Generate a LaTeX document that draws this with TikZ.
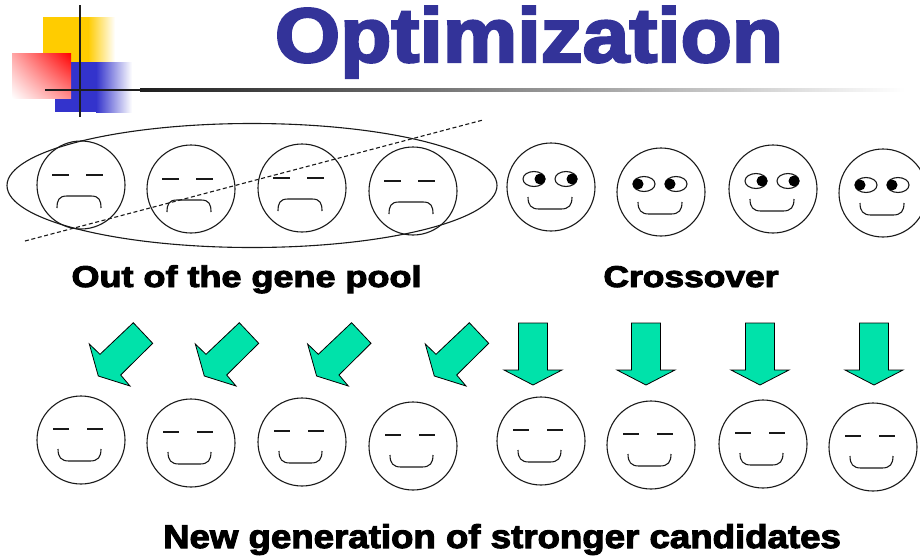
\documentclass[tikz,border=0pt]{standalone}
\usepackage{fontspec}
\newfontfamily\blackfont{Liberation Sans Bold}[FakeBold=3]
\usetikzlibrary{shapes.geometric,shadings}

\definecolor{titleblue}{RGB}{51,51,153}
\definecolor{mint}{RGB}{0,226,170}
\definecolor{logoyellow}{RGB}{255,204,0}
\definecolor{logoblue}{RGB}{51,51,204}
\definecolor{rulegray}{RGB}{30,30,30}

\tikzset{
  faceline/.style={line width=1.1pt, draw=black!90},
  facering/.style={circle, faceline, minimum size=88pt, inner sep=0pt},
  arrowshape/.style={fill=mint, draw=black, line width=0.8pt, line join=miter},
  headline/.style={font=\blackfont\fontsize{30}{30}\selectfont, anchor=base},
  % face with closed eyes and a frown
  pics/sadface/.style={code={
    \node[facering] (-ring) at (0,0) {};
    \draw[faceline] (-29,-10) -- (-12,-10) (5,-10) -- (22,-10);
    \draw[faceline] (-24,23) .. controls (-24,15) and (-22,11) .. (-14,11)
      -- (10,11) .. controls (18,11) and (20,15) .. (20,23);
  }},
  % face with closed eyes and a smile
  pics/glad/.style={code={
    \node[facering] (-ring) at (0,0) {};
    \draw[faceline] (-28,-11) -- (-12,-11) (6,-11) -- (22,-11);
    \draw[faceline] (-23,9) .. controls (-23,17) and (-20,21) .. (-12,21)
      -- (9,21) .. controls (17,21) and (20,17) .. (20,9);
  }},
  % smiling face with open eyes; #1 shifts the pupils sideways
  pics/glance/.style={code={
    \node[facering] (-ring) at (0,0) {};
    \draw[faceline] (-17,-8) ellipse [x radius=11, y radius=7.5]
                    (15,-8) ellipse [x radius=11, y radius=7.5];
    \fill (-17+#1,-8) circle [radius=5.5] (15+#1,-8) circle [radius=5.5];
    \draw[faceline] (-23,10) .. controls (-23,18) and (-20,22) .. (-12,22)
      -- (10,22) .. controls (18,22) and (21,18) .. (21,10);
  }},
}

\begin{document}
\begin{tikzpicture}[x=1pt,y=-1pt]
\useasboundingbox (0,0) rectangle (920,555);
\clip (0,0) rectangle (920,555);

% corner logo
\fill[logoyellow] (43,17) rectangle (88,62);
\shade[left color=logoyellow, right color=white] (88,17) rectangle (115,62);
\fill[logoblue] (55,62) rectangle (96,112);
\shade[left color=logoblue, right color=white] (96,62) rectangle (132,112);
\shade[upper right=red, lower left=white, upper left=red!35, lower right=red!45]
  (12,53) rectangle (71,98);
\draw[rulegray, line width=2.6pt] (80,5) -- (80,117);
\fill[rulegray] (45,88.7) rectangle (140,91.3);
\shade[left color=rulegray, right color=white] (140,88.7) rectangle (905,91.3);

% title
\node[anchor=base, text=titleblue] (title) at (529,62)
  {\blackfont\fontsize{77}{77}\selectfont\scalebox{1.09}[1]{Optimization}};

% the weak candidates, circled and crossed out
\node[ellipse, faceline, minimum width=490pt, minimum height=124pt, inner sep=0pt]
  (pool) at (252,185.5) {};
\pic (s1) at (81,185) {sadface};
\pic (s2) at (191,189) {sadface};
\pic (s3) at (302,188) {sadface};
\pic (s4) at (413,191) {sadface};
\coordinate (cutA) at (25,241);
\coordinate (cutB) at (483,120);
\draw[faceline, dash pattern=on 4pt off 2.6pt] (cutA) -- (cutB);

% the strong candidates
\pic (g1) at (551,187) {glance=6};
\pic (g2) at (661,192) {glance=-6};
\pic (g3) at (773,189) {glance=6};
\pic (g4) at (883,193) {glance=-6};

% labels
\node[headline] (outlabel) at (246.5,287) {\scalebox{1.2}[1]{Out of the gene pool}};
\node[headline] (crosslabel) at (691,287) {\scalebox{1.18}[1]{Crossover}};

% arrows towards the new generation
\foreach \x in {133.3,239.3,351.6,469.3}
  \draw[arrowshape, shift={(\x,322.7)}] (0,0) -- (19.4,20.6) -- (-12.6,52.3)
    -- (-3.3,63.3) -- (-35,53.3) -- (-44,21.3) -- (-33.3,31.6) -- cycle;
\foreach \x in {533,646,760,874}
  \draw[arrowshape] (\x-14.5,323) -- (\x+14.5,323) -- (\x+14.5,370) -- (\x+29,370)
    -- (\x,385) -- (\x-29,370) -- (\x-14.5,370) -- cycle;

% the new generation
\pic (n1) at (81,440) {glad};
\pic (n2) at (191,443) {glad};
\pic (n3) at (302,442) {glad};
\pic (n4) at (413,446) {glad};
\pic (n5) at (541,441) {glad};
\pic (n6) at (651,445) {glad};
\pic (n7) at (763,444) {glad};
\pic (n8) at (873,447) {glad};

\node[anchor=base] (newlabel) at (502,548)
  {\blackfont\fontsize{33}{33}\selectfont\scalebox{1.11}[1]{New generation of stronger candidates}};
\end{tikzpicture}
\end{document}
